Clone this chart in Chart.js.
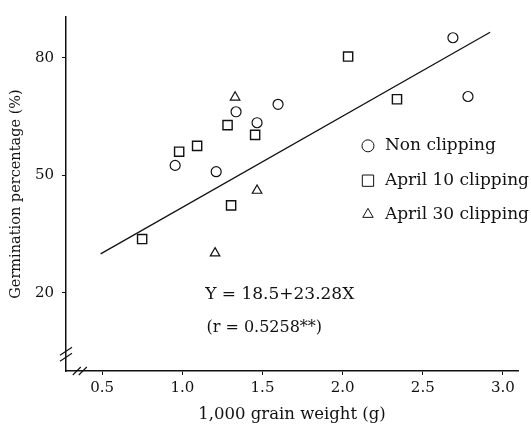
<!DOCTYPE html>
<html><head><meta charset="utf-8">
<script src="https://cdn.jsdelivr.net/npm/chart.js@4.4.0/dist/chart.umd.min.js"></script>
<style>html,body{margin:0;padding:0;background:#fff}#wrap{width:531px;height:425px}</style>
</head><body><div id="wrap"><canvas id="c" width="531" height="425"></canvas></div>
<script>
const seriesLabels = ["Non clipping", "April 10 clipping", "April 30 clipping"];
const nonX = [0.955, 1.211, 1.335, 1.466, 1.597, 2.688, 2.782];
const nonY = [52.5, 50.9, 66.2, 63.4, 68.1, 85.1, 70.1];
const apr10X = [0.749, 0.980, 1.092, 1.282, 1.454, 1.304, 2.034, 2.339];
const apr10Y = [33.7, 56.0, 57.5, 62.8, 60.3, 42.3, 80.3, 69.4];
const apr30X = [1.329, 1.466, 1.204];
const apr30Y = [69.9, 46.1, 30.1];
const fitX = [0.49, 2.92];
const fitY = [29.9, 86.5];
const xTicks = [0.5, 1.0, 1.5, 2.0, 2.5, 3.0];
const yTicks = [20, 50, 80];
const equationText = "Y = 18.5+23.28X";
const rText = "(r = 0.5258**)";

const FONT = "'DejaVu Serif', 'Liberation Serif', serif";
const pts = (xs, ys) => xs.map((x, i) => ({x: x, y: ys[i]}));

const overlay = {
  id: 'overlay',
  afterDraw(chart) {
    const ctx = chart.ctx, xs = chart.scales.x, ys = chart.scales.y;
    ctx.save();
    ctx.strokeStyle = '#111';
    ctx.textBaseline = 'middle';
    ctx.textAlign = 'left';
    // equation
    ctx.fillStyle = '#111';
    ctx.font = "17px " + FONT;
    ctx.fillText(equationText, xs.getPixelForValue(1.142), ys.getPixelForValue(19.5));
    ctx.font = "16px " + FONT;
    ctx.fillText(rText, xs.getPixelForValue(1.15), ys.getPixelForValue(11.1));
    // legend
    const rows = [57.5, 48.6, 40.0];
    const styles = ['circle', 'rect', 'triangle'];
    const radii = [6, 8, 6];
    ctx.font = "17px " + FONT;
    rows.forEach((yv, i) => {
      const cy = ys.getPixelForValue(yv);
      const cx = xs.getPixelForValue(2.158);
      ctx.lineWidth = 1;
      ctx.fillStyle = '#fff';
      Chart.helpers.drawPoint(ctx, {pointStyle: styles[i], radius: radii[i], borderWidth: 1}, cx, cy);
      ctx.fillStyle = '#111';
      ctx.fillText(seriesLabels[i], xs.getPixelForValue(2.264), cy);
    });
    // axis breaks
    ctx.lineWidth = 1.2;
    const ax = xs.left, by = ys.getPixelForValue(4.3);
    [-3, 3].forEach(d => {
      ctx.beginPath();
      ctx.moveTo(ax - 6, by + d + 4);
      ctx.lineTo(ax + 6, by + d - 4);
      ctx.stroke();
    });
    const bx = xs.getPixelForValue(0.36), ay = ys.bottom;
    [-3, 3].forEach(d => {
      ctx.beginPath();
      ctx.moveTo(bx + d - 4, ay + 4);
      ctx.lineTo(bx + d + 4, ay - 4);
      ctx.stroke();
    });
    ctx.restore();
  }
};

new Chart(document.getElementById('c'), {
  type: 'scatter',
  data: {
    datasets: [
      {label: seriesLabels[0], data: pts(nonX, nonY), pointStyle: 'circle', pointRadius: 5, borderColor: '#111', backgroundColor: '#fff', borderWidth: 1.2},
      {label: seriesLabels[1], data: pts(apr10X, apr10Y), pointStyle: 'rect', pointRadius: 6.5, borderColor: '#111', backgroundColor: '#fff', borderWidth: 1.4},
      {label: seriesLabels[2], data: pts(apr30X, apr30Y), pointStyle: 'triangle', pointRadius: 5.5, borderColor: '#111', backgroundColor: '#fff', borderWidth: 1.2},
      {label: 'fit', type: 'line', data: pts(fitX, fitY), showLine: true, pointRadius: 0, borderColor: '#111', borderWidth: 1.3, fill: false}
    ]
  },
  options: {
    responsive: false,
    animation: false,
    layout: {padding: {top: 13, right: 13, left: 0, bottom: 0}},
    plugins: {legend: {display: false}, tooltip: {enabled: false}},
    scales: {
      x: {
        type: 'linear', min: 0.274, max: 3.094,
        afterBuildTicks: s => { s.ticks = xTicks.map(v => ({value: v})); },
        afterFit: s => { s.height = 54; },
        ticks: {color: '#111', font: {family: FONT, size: 15}, padding: 4, callback: v => v.toFixed(1)},
        grid: {drawOnChartArea: false, drawTicks: true, tickLength: 4, color: '#111'},
        border: {color: '#111', width: 1.5},
        title: {display: true, text: '1,000 grain weight (g)', color: '#111', font: {family: FONT, size: 16.5}, padding: {top: 0, bottom: 0}}
      },
      y: {
        type: 'linear', min: 0, max: 90.4,
        afterBuildTicks: s => { s.ticks = yTicks.map(v => ({value: v})); },
        afterFit: s => { s.width = 66; },
        ticks: {color: '#111', font: {family: FONT, size: 15}, padding: 8},
        grid: {drawOnChartArea: false, drawTicks: true, tickLength: 4, color: '#111'},
        border: {color: '#111', width: 1.5},
        title: {display: true, text: 'Germination percentage (%)', color: '#111', font: {family: FONT, size: 14.5}, padding: {top: 8, bottom: 2}}
      }
    }
  },
  plugins: [overlay]
});
</script></body></html>
